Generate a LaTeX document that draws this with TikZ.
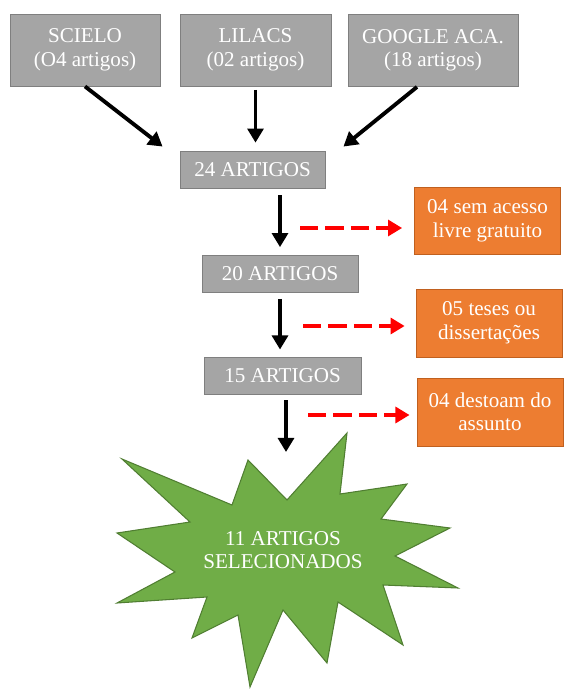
\documentclass[tikz,border=0pt]{standalone}
\usepackage{fontspec}
\setmainfont{Liberation Serif}
\usetikzlibrary{arrows.meta}
\definecolor{boxgray}{HTML}{A5A5A5}
\definecolor{linegray}{HTML}{7F7F7F}
\definecolor{cutorange}{HTML}{ED7D31}
\definecolor{cutline}{HTML}{C0601F}
\definecolor{selgreen}{HTML}{70AD47}
\definecolor{selline}{HTML}{507E32}
\tikzset{
  base/.style={draw=linegray,fill=boxgray,text=white,line width=0.5pt,
    align=center,inner sep=0pt,font=\fontsize{12}{13.4}\selectfont},
  srcbox/.style={base,minimum width=150*0.02cm,minimum height=72*0.02cm},
  stepbox/.style={base,minimum height=37*0.02cm},
  cutbox/.style={base,draw=cutline,fill=cutorange,minimum width=146*0.02cm,minimum height=67*0.02cm},
  flow/.style={line width=2.2pt,-{Triangle[width=9pt,length=8pt]}},
  cut/.style={red,line width=2.4pt,dash pattern=on 10.5pt off 4pt,-{Triangle[width=9pt,length=8pt]}}
}
\begin{document}
\begin{tikzpicture}[x=0.02cm,y=-0.02cm]
    \useasboundingbox (0,0) rectangle (569,695);

    \node[srcbox] (scielo) at (85,50) {SCIELO\\(O4 artigos)};
    \node[srcbox,minimum width=151*0.02cm] (lilacs) at (255.5,50) {LILACS\\(02 artigos)};
    \node[srcbox,minimum width=170*0.02cm] (google) at (433,50.5) {GOOGLE ACA.\\(18 artigos)};

    \node[stepbox,minimum width=145*0.02cm] (a24) at (252.5,169.5) {24 ARTIGOS};
    \node[stepbox,minimum width=156*0.02cm] (a20) at (280,274) {20 ARTIGOS};
    \node[stepbox,minimum width=157*0.02cm] (a15) at (282.5,375.5) {15 ARTIGOS};

    \node[cutbox] (o1) at (487.5,220.5) {04 sem acesso\\livre gratuito};
    \node[cutbox,minimum height=68*0.02cm] (o2) at (489,323) {05 teses ou\\dissertações};
    \node[cutbox,minimum height=68*0.02cm] (o3) at (490,412) {04 destoam do\\assunto};

    \draw[fill=selgreen,draw=selline,line width=0.6pt]
        (122,459) -- (232,505) -- (248,460) -- (287,500) -- (347,433) -- (340,494)
        -- (407,484) -- (381,519) -- (450,528) -- (395,556) -- (458,588) -- (383,585)
        -- (403,645) -- (338,602) -- (327,663) -- (283,610) -- (250,687) -- (238,615)
        -- (192,638) -- (207,597) -- (117,603) -- (175,572) -- (117,533) -- (190,522)
        -- cycle;
    \node[align=center,text=white,font=\fontsize{12}{13.4}\selectfont] (sel) at (283,550)
        {11 ARTIGOS\\SELECIONADOS};
    \coordinate (seltop) at (286,452);

    \draw[flow] (scielo.south) -- ([shift={(-17,-4)}]a24.north west);
    \draw[flow,shorten <=2pt,shorten >=4.5pt] (lilacs.south) -- (lilacs.south |- a24.north);
    \draw[flow] ([shift={(-16,0)}]google.south) -- ([shift={(18,-4)}]a24.north east);

    \draw[flow,shorten <=4pt,shorten >=4.5pt] (a24.south -| a20.north) -- (a20.north);
    \draw[flow,shorten <=3.4pt,shorten >=4pt] (a20.south) -- (a20.south |- a15.north);
    \draw[flow,shorten <=3.4pt] (a15.south -| seltop) -- (seltop);

    \coordinate (c1) at (300,228);
    \coordinate (c2) at (303,326);
    \coordinate (c3) at (308,415);
    \draw[cut,shorten >=6.8pt] (c1) -- (c1 -| o1.west);
    \draw[cut,shorten >=6.2pt] (c2) -- (c2 -| o2.west);
    \draw[cut,shorten >=4pt] (c3) -- (c3 -| o3.west);

\end{tikzpicture}
\end{document}
